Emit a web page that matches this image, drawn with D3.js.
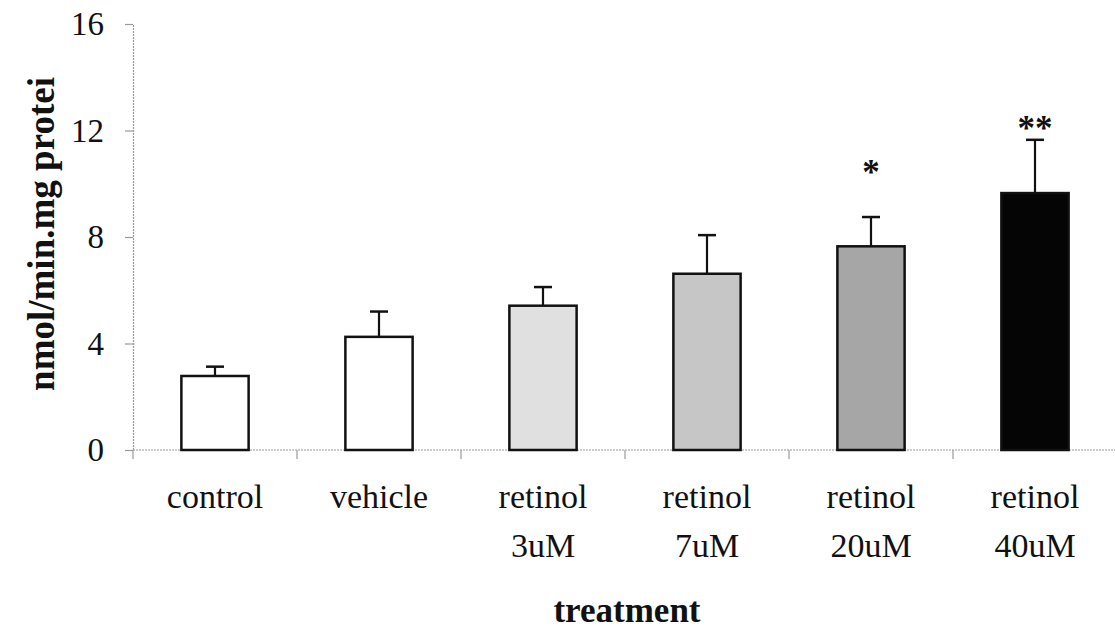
<!DOCTYPE html>
<html>
<head>
<meta charset="utf-8">
<script src="https://cdn.jsdelivr.net/npm/d3@7"></script>
<style>
  body { margin: 0; background: #fff; }
  text { font-family: "Liberation Serif", "Times New Roman", serif; fill: #111; }
</style>
</head>
<body>
<svg id="chart" width="1115" height="641"></svg>
<script>
(function(){

	//data
	var categories = ["control", "vehicle", "retinol 3uM", "retinol 7uM", "retinol 20uM", "retinol 40uM"];
	var labelLines = [["control"], ["vehicle"], ["retinol", "3uM"], ["retinol", "7uM"], ["retinol", "20uM"], ["retinol", "40uM"]];
	var means = [2.78, 4.25, 5.42, 6.62, 7.65, 9.65];
	var errors = [0.35, 0.95, 0.7, 1.45, 1.1, 2.0];
	var stars = ["", "", "", "", "*", "**"];
	var starLevels = [0, 0, 0, 0, 10.55, 12.2];
	var fills = ["#ffffff", "#ffffff", "#e0e0e0", "#c6c6c6", "#a6a6a6", "#050505"];
	var yTicks = [0, 4, 8, 12, 16];

	//layout
	var width = 1115, height = 641;
	var left = 133, right = 1117, top = 24, bottom = 450;
	var axisColor = "#9a9a9a";

	var svg = d3.select("#chart");

	var x = d3.scaleBand()
		.domain(categories)
		.range([left, right])
		.padding(0);
	var barW = x.bandwidth() * 0.41;

	var y = d3.scaleLinear()
		.domain([0, 16])
		.range([bottom, top]);

	//y axis
	var yAxis = svg.append("g")
		.attr("transform", "translate(" + left + ",0)")
		.call(d3.axisLeft(y).tickValues(yTicks).tickSize(8).tickPadding(21));
	yAxis.select(".domain").attr("stroke", axisColor).attr("stroke-width", 1.2).attr("stroke-dasharray", "2,1");
	yAxis.selectAll(".tick line").attr("stroke", axisColor).attr("stroke-width", 1.2);
	yAxis.selectAll(".tick text")
		.attr("font-size", "33px")
		.attr("font-family", "Liberation Serif, serif")
		.attr("fill", "#111");

	//x axis: ticks sit on category boundaries
	var boundaries = categories.map(function(c){ return x(c); });
	svg.append("line")
		.attr("x1", left).attr("x2", width)
		.attr("y1", bottom).attr("y2", bottom)
		.attr("stroke", axisColor).attr("stroke-width", 1.2).attr("stroke-dasharray", "2,1");
	svg.selectAll(".xtick")
		.data(boundaries)
		.enter()
		.append("line")
		.attr("class", "xtick")
		.attr("x1", function(d){ return d; })
		.attr("x2", function(d){ return d; })
		.attr("y1", bottom)
		.attr("y2", bottom + 9)
		.attr("stroke", axisColor)
		.attr("stroke-width", 1.2);

	var group = svg.selectAll(".barGroup")
		.data(categories)
		.enter()
		.append("g")
		.attr("class", "barGroup");

	//error bars (upper only)
	group.append("line")
		.attr("x1", function(d){ return x(d) + x.bandwidth() / 2; })
		.attr("x2", function(d){ return x(d) + x.bandwidth() / 2; })
		.attr("y1", function(d, i){ return y(means[i]); })
		.attr("y2", function(d, i){ return y(means[i] + errors[i]); })
		.attr("stroke", "#111")
		.attr("stroke-width", 2.2);
	group.append("line")
		.attr("x1", function(d){ return x(d) + x.bandwidth() / 2 - 9; })
		.attr("x2", function(d){ return x(d) + x.bandwidth() / 2 + 9; })
		.attr("y1", function(d, i){ return y(means[i] + errors[i]); })
		.attr("y2", function(d, i){ return y(means[i] + errors[i]); })
		.attr("stroke", "#111")
		.attr("stroke-width", 2.5);

	//bars
	group.append("rect")
		.attr("x", function(d){ return x(d) + (x.bandwidth() - barW) / 2; })
		.attr("y", function(d, i){ return y(means[i]); })
		.attr("width", barW)
		.attr("height", function(d, i){ return y(0) - y(means[i]); })
		.attr("fill", function(d, i){ return fills[i]; })
		.attr("stroke", "#111")
		.attr("stroke-width", 2.5);

	//significance marks
	group.append("text")
		.attr("x", function(d){ return x(d) + x.bandwidth() / 2; })
		.attr("y", function(d, i){ return y(starLevels[i]) + 15; })
		.attr("text-anchor", "middle")
		.attr("font-size", "35px")
		.attr("font-weight", "bold")
		.text(function(d, i){ return stars[i]; });

	//category labels
	var labels = group.append("text")
		.attr("text-anchor", "middle")
		.attr("font-size", "34px");
	labels.selectAll("tspan")
		.data(function(d, i){ return labelLines[i].map(function(t){ return {cat: d, text: t}; }); })
		.enter()
		.append("tspan")
		.attr("x", function(d){ return x(d.cat) + x.bandwidth() / 2; })
		.attr("y", function(d, j){ return 508 + j * 49; })
		.text(function(d){ return d.text; });

	//axis titles
	svg.append("text")
		.attr("x", 627)
		.attr("y", 622)
		.attr("text-anchor", "middle")
		.attr("font-size", "35px")
		.attr("font-weight", "bold")
		.text("treatment");

	svg.append("text")
		.attr("transform", "translate(54,234) rotate(-90)")
		.attr("text-anchor", "middle")
		.attr("font-size", "37px")
		.attr("font-weight", "bold")
		.text("nmol/min.mg protei");

})();
</script>
</body>
</html>
